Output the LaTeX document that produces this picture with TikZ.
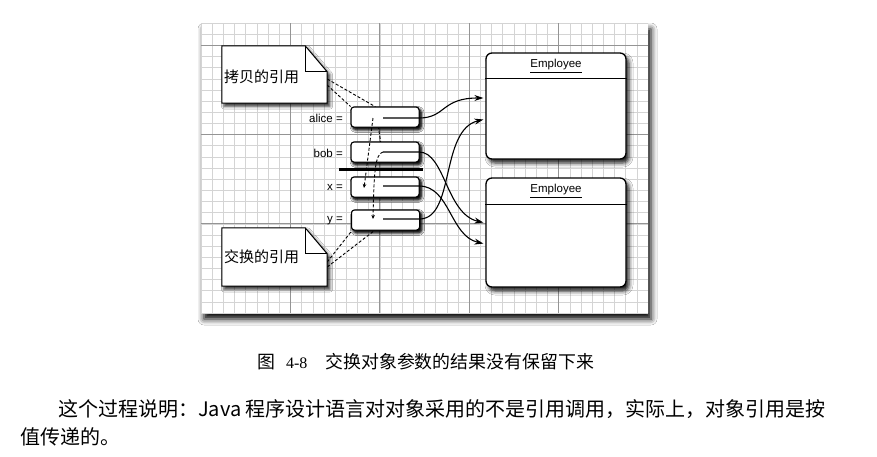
\documentclass[tikz,border=0pt]{standalone}
\usepackage{fontspec}
\setmainfont{Liberation Serif}
\setsansfont{Liberation Sans}
\newfontfamily\cjk{Noto Sans CJK SC}
\usetikzlibrary{arrows.meta,shadows.blur,calc}

\begin{document}
\begin{tikzpicture}[x=1pt,y=-1pt,
  minorgrid/.style={draw=black!17,line width=0.5pt},
  majorgrid/.style={draw=black!42,line width=0.7pt},
  panel/.style={fill=white,blur shadow={shadow xshift=3pt,shadow yshift=-6pt,shadow blur radius=6pt,shadow opacity=100}},
  notebox/.style={draw=none,minimum width=105pt,minimum height=57pt,inner sep=0pt},
  noteline/.style={draw=black,line width=1pt,fill=white,line join=miter,
    blur shadow={shadow xshift=2.5pt,shadow yshift=-3pt,shadow blur radius=3pt,shadow opacity=85}},
  notetext/.style={font=\cjk\fontsize{15}{18}\selectfont,inner sep=0pt},
  varbox/.style={draw=black,line width=1pt,fill=white,rounded corners=3pt,
    minimum width=68pt,minimum height=20pt,inner sep=0pt,
    blur shadow={shadow xshift=2pt,shadow yshift=-2.5pt,shadow blur radius=3pt,shadow opacity=90}},
  varlabel/.style={font=\sffamily\fontsize{11.5}{13}\selectfont,anchor=east,inner sep=0pt},
  objbox/.style={draw=black,line width=1.3pt,fill=white,rounded corners=6pt,
    minimum width=140pt,inner sep=0pt,
    blur shadow={shadow xshift=3pt,shadow yshift=-4pt,shadow blur radius=4pt,shadow opacity=90}},
  objtitle/.style={font=\sffamily\fontsize{11.5}{13}\selectfont,inner sep=0pt},
  ptr/.style={draw=black,line width=1.1pt,-{Stealth[length=9pt,width=6pt]},shorten >=2pt},
  copyline/.style={draw=black,line width=0.9pt,dash pattern=on 3pt off 2pt},
  copyarrow/.style={copyline,-{Stealth[length=4pt,width=3.5pt]}},
  bar/.style={draw=black,line width=3pt},
  caption/.style={font=\fontsize{17.9}{20}\selectfont,inner sep=0pt},
  para/.style={font=\cjk\fontsize{20}{24}\selectfont,inner sep=0pt,anchor=west}
]
\useasboundingbox (0,0) rectangle (877,456);
\fill[white] (0,0) rectangle (877,456);

% graph-paper panel
\path[panel] (201,23) rectangle (648,313);
\begin{scope}
  \clip (201,23) rectangle (648,313);
  \foreach \i in {0,...,40} \draw[minorgrid] ({201+\i*11.175},23) -- ++(0,290);
  \foreach \j in {0,...,26} \draw[minorgrid] (201,{23+\j*11.154}) -- ++(447,0);
  \foreach \i in {8,16,24,32} \draw[majorgrid] ({201+\i*11.175},23) -- ++(0,290);
  \foreach \j in {2,10,18} \draw[majorgrid] (201,{23+\j*11.154}) -- ++(447,0);
\end{scope}

% note anchors
\node[notebox] (copynote) at (274.5,74.5) {};
\node[notebox,minimum height=58pt] (swapnote) at (274.5,257) {};

% variable boxes (placed first so that the dashed call-outs can reach them)
\node[varbox] (alice) at (385,117) {};
\node[varbox] (bob) at (385,152) {};
\node[varbox] (x) at (385,187) {};
\node[varbox] (y) at (385.5,220) {};

% dashed call-outs from the notes (behind the boxes)
\coordinate (bobcopy) at (382,150);
\draw[copyline] ([yshift=-4.5pt]copynote.east) -- ([xshift=-10pt]alice.north) -- (bobcopy);
\draw[copyline] ([yshift=-10.5pt]copynote.east) -- (alice.north west);
\draw[copyline] ([yshift=-5pt]swapnote.east) -- ([xshift=1pt]y.south west);
\draw[copyline] ([yshift=-10pt]swapnote.east) -- ([xshift=-11pt]y.south);

% redraw the boxes over the call-outs
\node[varbox] at (alice) {};
\node[varbox] at (bob) {};
\node[varbox] at (x) {};
\node[varbox] at (y) {};

% notes with a folded corner
\draw[noteline] (copynote.north west) -- ([xshift=-22pt]copynote.north east)
  -- ([yshift=-26pt]copynote.north east) -- (copynote.south east) -- (copynote.south west) -- cycle;
\draw[line width=1pt] ([xshift=-22pt]copynote.north east) -- ([xshift=-22pt,yshift=-26pt]copynote.north east)
  -- ([yshift=-26pt]copynote.north east);
\node[notetext,anchor=west] (copytext) at ([xshift=2pt,yshift=-2.5pt]copynote.west) {拷贝的引用};

\draw[noteline] (swapnote.north west) -- ([xshift=-22pt]swapnote.north east)
  -- ([yshift=-26pt]swapnote.north east) -- (swapnote.south east) -- (swapnote.south west) -- cycle;
\draw[line width=1pt] ([xshift=-22pt]swapnote.north east) -- ([xshift=-22pt,yshift=-26pt]swapnote.north east)
  -- ([yshift=-26pt]swapnote.north east);
\node[notetext,anchor=west] (swaptext) at ([xshift=2pt,yshift=0pt]swapnote.west) {交换的引用};

% variable labels
\node[varlabel] (alicelbl) at (343,118) {alice =};
\node[varlabel] (boblbl) at (343,153) {bob =};
\node[varlabel] (xlbl) at (343,187) {x =};
\node[varlabel] (ylbl) at (343,221) {y =};

% Employee objects
\node[objbox,minimum height=106pt] (e1) at (556,106) {};
\node[objbox,minimum height=109pt] (e2) at (556,232.5) {};
\coordinate (h1) at (0,78);
\coordinate (h2) at (0,204);
\draw[line width=1pt] (e1.west |- h1) -- (e1.east |- h1);
\draw[line width=1pt] (e2.west |- h2) -- (e2.east |- h2);
\node[objtitle] (t1) at (556,66) {\underline{Employee}};
\node[objtitle] (t2) at (556,191) {\underline{Employee}};

% references held by the variables
\coordinate (ap) at (383,118);
\coordinate (bp) at (383,152);
\coordinate (xp) at (383,186);
\coordinate (yp) at (383,219);
\draw[ptr] (ap) -- (419,118) .. controls (446,118) and (441,98) .. ([yshift=8pt]e1.west);
\draw[ptr] (yp) -- (420,219) .. controls (455,218) and (440,130) .. ([yshift=-13pt]e1.west);
\draw[ptr] (bp) -- (419,152) .. controls (445,152) and (446,214) .. ([yshift=9.5pt]e2.west);
\draw[ptr] (xp) -- (419,186) .. controls (450,186) and (450,236) .. ([yshift=-11.5pt]e2.west);

% copies made on the call
\coordinate (ad) at (373,118);
\draw[copyarrow] (ad) -- ([xshift=-21pt,yshift=-1pt]x.center);
\draw[copyarrow] (bp) .. controls (375,154) and (374,172) .. ([xshift=-12.5pt,yshift=1pt]y.center);

% separator between the caller and the method
\coordinate (barl) at (339,169);
\coordinate (barr) at (423,169);
\draw[bar] (barl) -- (barr);

% caption and text below
\node[caption,anchor=west] (cap) at (257,362) {{\cjk 图}\hspace{11pt}{\fontsize{16}{20}\selectfont 4-8}\hspace{18pt}{\cjk 交换对象参数的结果没有保留下来}};
\node[para] (p1) at (58,409) {这个过程说明：Java 程序设计语言对对象采用的不是引用调用，实际上，对象引用是按};
\node[para] (p2) at (20,437) {值传递的。};
\end{tikzpicture}
\end{document}
